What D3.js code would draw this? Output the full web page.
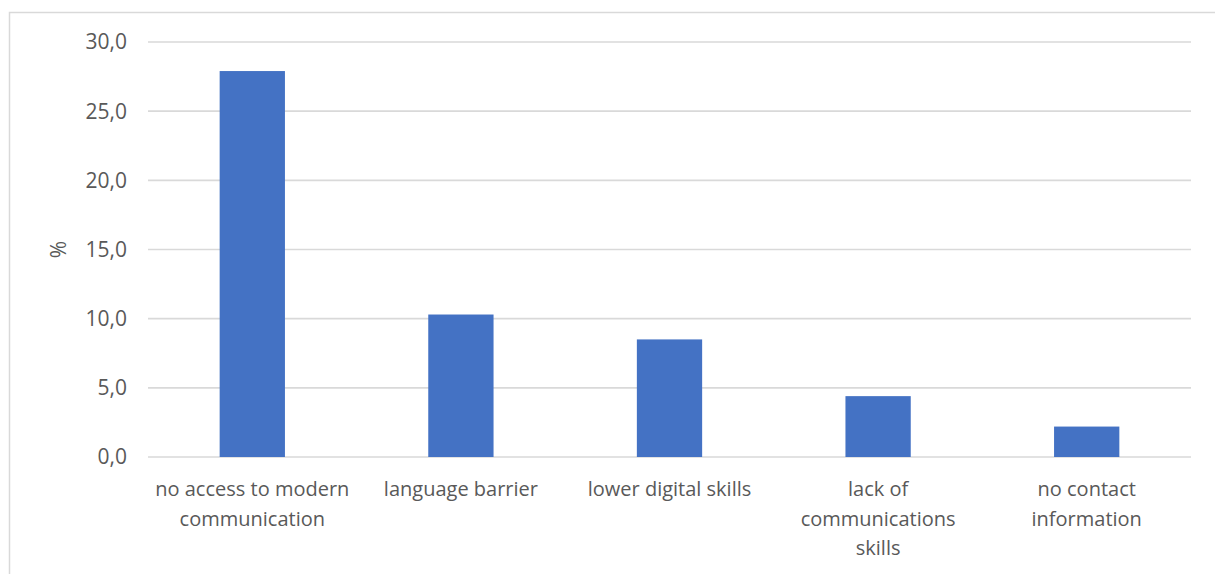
<!DOCTYPE html>
<html>
<head>
<meta charset="utf-8">
<script src="https://cdn.jsdelivr.net/npm/d3@7"></script>
<style>
  html, body { margin: 0; padding: 0; background: #fff; }
  svg { display: block; }
  text { font-family: "Segoe UI", "Open Sans", "Noto Sans", sans-serif; fill: #595959; }
</style>
</head>
<body>
<svg id="chart" width="1215" height="574"></svg>
<script>
// Barriers to communication, share of respondents (%)
const categories = [
  "no access to modern communication",
  "language barrier",
  "lower digital skills",
  "lack of communications skills",
  "no contact information"
];
// Category labels split into the lines they are printed on
const labelLines = [
  ["no access to modern", "communication"],
  ["language barrier"],
  ["lower digital skills"],
  ["lack of", "communications", "skills"],
  ["no contact", "information"]
];
const values = [27.9, 10.3, 8.5, 4.4, 2.2];
const yTicks = [0, 5, 10, 15, 20, 25, 30];
const yTitle = "%";

const svg = d3.select("#chart");
const margin = { left: 148, right: 24, top: 42, bottom: 117 };
const W = 1215, H = 574;

// Chart frame
svg.append("rect")
  .attr("x", 9.5).attr("y", 12.5)
  .attr("width", W + 20).attr("height", H + 20)
  .attr("fill", "none").attr("stroke", "#d9d9d9").attr("stroke-width", 1.5);

const x = d3.scaleBand()
  .domain(categories)
  .range([margin.left, W - margin.right])
  .padding(0);

const y = d3.scaleLinear()
  .domain([0, 30])
  .range([H - margin.bottom, margin.top]);

// Horizontal gridlines
svg.append("g")
  .selectAll("line")
  .data(yTicks)
  .join("line")
  .attr("x1", margin.left).attr("x2", W - margin.right)
  .attr("y1", d => y(d)).attr("y2", d => y(d))
  .attr("stroke", "#d9d9d9").attr("stroke-width", 1.6);

// Y axis labels (comma decimal)
const fmt = d => d3.format(".1f")(d).replace(".", ",");
svg.append("g")
  .selectAll("text")
  .data(yTicks)
  .join("text")
  .attr("x", margin.left - 21)
  .attr("y", d => y(d))
  .attr("dy", "0.35em")
  .attr("text-anchor", "end")
  .attr("font-size", 21)
  .text(fmt);

// Bars: width is about 31% of the category slot
const barFrac = 0.313;
svg.append("g")
  .selectAll("rect")
  .data(values)
  .join("rect")
  .attr("x", (d, i) => x(categories[i]) + x.bandwidth() * (1 - barFrac) / 2)
  .attr("width", x.bandwidth() * barFrac)
  .attr("y", d => y(d))
  .attr("height", d => y(0) - y(d))
  .attr("fill", "#4472c4");

// Category labels
const lab = svg.append("g")
  .selectAll("text")
  .data(categories)
  .join("text")
  .attr("text-anchor", "middle")
  .attr("font-size", 20)
  .attr("transform", d => `translate(${x(d) + x.bandwidth() / 2},${y(0) + 39})`);
lab.selectAll("tspan")
  .data((d, i) => labelLines[i])
  .join("tspan")
  .attr("x", 0)
  .attr("y", (d, j) => j * 29.5)
  .text(d => d);

// Y axis title
svg.append("text")
  .attr("transform", `translate(66,${(y(0) + y(30)) / 2}) rotate(-90)`)
  .attr("text-anchor", "middle")
  .attr("font-size", 21)
  .text(yTitle);
</script>
</body>
</html>
